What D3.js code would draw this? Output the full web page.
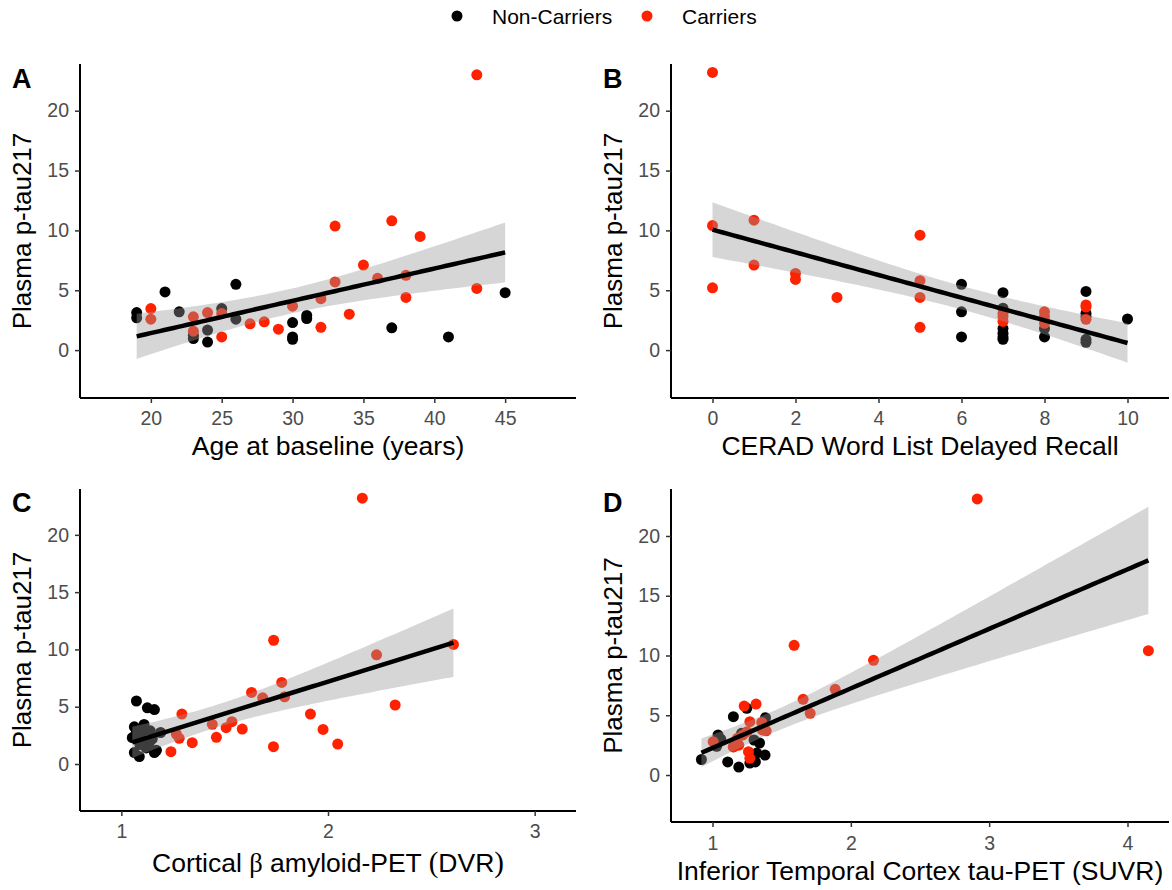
<!DOCTYPE html>
<html>
<head>
<meta charset="utf-8">
<script src="https://cdn.jsdelivr.net/npm/d3@7"></script>
<style>
  body { margin: 0; background: #fff; }
  text { font-family: "Liberation Sans", Arial, sans-serif; }
</style>
</head>
<body>
<svg id="chart" width="1172" height="890"></svg>
<script>
"use strict";

// ---- data ----
// A: age at baseline
const ageNC  = [19, 19, 21, 22, 23, 23, 24, 24, 25, 26, 26, 30, 30, 30, 31, 31, 37, 41, 45];
const ptauNC_A = [3.14, 2.7, 4.86, 3.2, 1.25, 0.97, 1.67, 0.67, 3.47, 5.5, 2.58, 2.3, 1.1, 0.9, 2.9, 2.64, 1.86, 1.1, 4.8];
const ageC   = [20, 20, 23, 23, 24, 25, 25, 27, 28, 29, 30, 32, 32, 33, 33, 34, 35, 36, 37, 38, 38, 39, 43, 43];
const ptauC_A = [3.47, 2.58, 2.78, 1.58, 3.14, 3.05, 1.1, 2.2, 2.36, 1.75, 3.67, 4.3, 1.9, 10.36, 5.7, 3.0, 7.1, 6.0, 10.8, 6.25, 4.4, 9.5, 23.0, 5.15];

// B: CERAD delayed recall
const recallNC = [6, 6, 6, 7, 7, 7, 7, 7, 7, 8, 8, 9, 9, 9, 9, 9, 10];
const ptauNC_B = [5.5, 3.2, 1.1, 4.8, 3.5, 1.8, 1.4, 1.1, 0.9, 1.8, 1.1, 4.9, 3.07, 2.8, 0.9, 0.65, 2.6];
const recallC  = [0, 0, 0, 1, 1, 2, 2, 3, 5, 5, 5, 5, 7, 7, 7, 8, 8, 8, 9, 9, 9];
const ptauC_B  = [23.2, 10.4, 5.2, 10.85, 7.1, 6.4, 5.9, 4.4, 9.6, 5.8, 4.4, 1.9, 3.07, 2.8, 2.4, 3.2, 2.8, 2.24, 3.77, 3.6, 2.57];

// C: cortical amyloid PET (DVR)
const dvrNC = [1.073, 1.126, 1.16, 1.063, 1.11, 1.053, 1.063, 1.087, 1.16, 1.10, 1.135, 1.12, 1.19, 1.14, 1.08, 1.15, 1.07, 1.17, 1.09];
const ptauNC_C = [5.5, 4.9, 4.75, 3.25, 3.45, 2.3, 1.0, 0.65, 1.0, 2.7, 1.85, 1.4, 2.75, 2.9, 3.0, 2.2, 2.6, 1.2, 1.7];
const dvrC  = [2.166, 1.737, 2.607, 2.235, 1.776, 1.63, 1.684, 1.79, 2.325, 1.293, 1.915, 1.44, 1.535, 1.507, 1.585, 1.976, 1.266, 1.28, 1.343, 1.46, 1.736, 2.047, 1.24];
const ptauC_C = [23.2, 10.8, 10.44, 9.53, 7.12, 6.25, 5.78, 5.87, 5.15, 4.36, 4.36, 3.46, 3.69, 3.17, 3.05, 3.02, 2.62, 2.24, 1.86, 2.33, 1.51, 1.74, 1.08];

// D: inferior temporal tau PET (SUVR)
const suvrNC = [0.92, 1.04, 1.06, 1.03, 1.11, 1.19, 1.27, 1.32, 1.38, 1.34, 1.31, 1.248, 1.151, 1.383, 1.21, 1.30, 1.16];
const ptauNC_D = [1.3, 3.35, 3.0, 2.4, 1.1, 0.67, 1.0, 1.84, 1.67, 2.68, 1.1, 5.58, 4.88, 4.8, 3.49, 2.93, 2.6];
const suvrC  = [2.914, 4.151, 1.59, 2.164, 1.887, 1.655, 1.706, 1.315, 1.229, 1.27, 1.356, 1.388, 1.005, 1.18, 1.22, 1.25, 1.154, 1.19, 1.26, 1.27, 1.36, 1.15];
const ptauC_D = [23.1, 10.4, 10.85, 9.6, 7.17, 6.33, 5.16, 5.94, 5.77, 4.46, 4.4, 3.7, 2.79, 3.07, 3.35, 3.63, 2.37, 2.5, 1.95, 1.4, 3.77, 2.35];

const yTicks = [0, 5, 10, 15, 20];
const legendLabels = ["Non-Carriers", "Carriers"];
const colNC = "#000000";
const colC = "#ff2200";

const panels = [
    { tag: "A", xNC: ageNC, yNC: ptauNC_A, xC: ageC, yC: ptauC_A,
      xDom: [15, 50], yDom: [-4, 23.9], left: 80, right: 576, top: 64, bottom: 398,
      xTicks: [20, 25, 30, 35, 40, 45], xTitle: "Age at baseline (years)",
      tickBase: 425, titleBase: 455, tagBase: 88, tagX: 12 },
    { tag: "B", xNC: recallNC, yNC: ptauNC_B, xC: recallC, yC: ptauC_B,
      xDom: [-1, 11], yDom: [-4, 23.9], left: 671, right: 1169, top: 64, bottom: 398,
      xTicks: [0, 2, 4, 6, 8, 10], xTitle: "CERAD Word List Delayed Recall",
      tickBase: 425, titleBase: 455, tagBase: 88, tagX: 603 },
    { tag: "C", xNC: dvrNC, yNC: ptauNC_C, xC: dvrC, yC: ptauC_C,
      xDom: [0.8, 3.2], yDom: [-4.1, 24.0], left: 80, right: 576, top: 489, bottom: 811,
      xTicks: [1, 2, 3], xTitle: null,
      tickBase: 838, titleBase: 872, tagBase: 512, tagX: 12 },
    { tag: "D", xNC: suvrNC, yNC: ptauNC_D, xC: suvrC, yC: ptauC_D,
      xDom: [0.70, 4.30], yDom: [-3.93, 23.93], left: 671, right: 1169, top: 489, bottom: 822,
      xTicks: [1, 2, 3, 4], xTitle: "Inferior Temporal Cortex tau-PET (SUVR)",
      tickBase: 850, titleBase: 880, tagBase: 512, tagX: 603 }
];

const svg = d3.select("#chart");

// t quantile (0.975) approximation
function tq975(df) {
    const z = 1.959964;
    return z + (z * z * z + z) / (4 * df) + (5 * Math.pow(z, 5) + 16 * z * z * z + 3 * z) / (96 * df * df);
}

// ordinary least squares + 95% CI of the mean, like geom_smooth(method = "lm")
function lmFit(xs, ys) {
    const n = xs.length;
    const xbar = d3.mean(xs), ybar = d3.mean(ys);
    let sxx = 0, sxy = 0;
    xs.forEach((x, i) => { sxx += (x - xbar) * (x - xbar); sxy += (x - xbar) * (ys[i] - ybar); });
    const b = sxy / sxx, a = ybar - b * xbar;
    let sse = 0;
    xs.forEach((x, i) => { const r = ys[i] - (a + b * x); sse += r * r; });
    const s = Math.sqrt(sse / (n - 2));
    const t = tq975(n - 2);
    const [lo, hi] = d3.extent(xs);
    const grid = d3.range(81).map(i => lo + (hi - lo) * i / 80);
    return grid.map(x => {
        const yh = a + b * x;
        const se = s * Math.sqrt(1 / n + (x - xbar) * (x - xbar) / sxx);
        return { x: x, y: yh, lo: yh - t * se, hi: yh + t * se };
    });
}

function drawPanel(p) {
    const x = d3.scaleLinear().domain(p.xDom).range([p.left, p.right]);
    const y = d3.scaleLinear().domain(p.yDom).range([p.bottom, p.top]);
    const g = svg.append("g");

    // points
    const pts = p.xNC.map((v, i) => ({ x: v, y: p.yNC[i], c: colNC }))
        .concat(p.xC.map((v, i) => ({ x: v, y: p.yC[i], c: colC })));
    g.selectAll("circle.pt").data(pts).enter().append("circle")
        .attr("class", "pt")
        .attr("cx", d => x(d.x)).attr("cy", d => y(d.y))
        .attr("r", 5.5).attr("fill", d => d.c);

    // smooth (drawn over the points, as in the figure)
    const fit = lmFit(pts.map(d => d.x), pts.map(d => d.y));
    g.append("path").datum(fit)
        .attr("d", d3.area().x(d => x(d.x)).y0(d => y(d.lo)).y1(d => y(d.hi)))
        .attr("fill", "#999999").attr("fill-opacity", 0.4);
    g.append("path").datum(fit)
        .attr("d", d3.line().x(d => x(d.x)).y(d => y(d.y)))
        .attr("fill", "none").attr("stroke", "#000").attr("stroke-width", 4.5);

    // axes
    const xAxis = g.append("g").attr("transform", "translate(0," + p.bottom + ")")
        .call(d3.axisBottom(x).tickValues(p.xTicks).tickSize(5).tickPadding(4).tickFormat(d3.format("d")));
    const yAxis = g.append("g").attr("transform", "translate(" + p.left + ",0)")
        .call(d3.axisLeft(y).tickValues(yTicks).tickSize(5).tickPadding(4).tickFormat(d3.format("d")));
    [xAxis, yAxis].forEach(ax => {
        ax.select(".domain").attr("stroke", "#000").attr("stroke-width", 2)
            .attr("d", ax === xAxis ? "M" + p.left + ",0H" + p.right : "M0," + p.top + "V" + p.bottom);
        ax.selectAll(".tick line").attr("stroke", "#333").attr("stroke-width", 1.5);
        ax.selectAll(".tick text").attr("fill", "#4d4d4d").style("font-size", "19.5px")
            .style("font-family", "'Liberation Sans', Arial, sans-serif");
    });
    xAxis.selectAll(".tick text").attr("dy", null).attr("y", p.tickBase - p.bottom);
    yAxis.selectAll(".tick text").attr("x", -11);

    // titles
    const cx = (p.left + p.right) / 2;
    if (p.xTitle) {
        g.append("text").attr("x", cx).attr("y", p.titleBase).attr("text-anchor", "middle")
            .style("font-size", "26.5px").attr("fill", "#000").text(p.xTitle);
    } else {
        const t = g.append("text").attr("x", cx).attr("y", p.titleBase).attr("text-anchor", "middle")
            .style("font-size", "26.5px").attr("fill", "#000");
        t.append("tspan").text("Cortical ");
        t.append("tspan").style("font-family", "'Liberation Serif', serif").text("β");
        t.append("tspan").text(" amyloid-PET  ");
        t.append("tspan").style("font-family", "'Liberation Serif', serif").style("font-size", "29px").text("(");
        t.append("tspan").text("DVR");
        t.append("tspan").style("font-family", "'Liberation Serif', serif").style("font-size", "29px").text(")");
    }
    g.append("text")
        .attr("transform", "translate(" + (p.left - 49) + "," + ((p.top + p.bottom) / 2) + ") rotate(-90)")
        .attr("text-anchor", "middle").style("font-size", "26px").attr("fill", "#000")
        .text("Plasma p-tau217");

    g.append("text").attr("x", p.tagX).attr("y", p.tagBase)
        .style("font-size", "27px").style("font-weight", "bold").attr("fill", "#000").text(p.tag);
}

panels.forEach(drawPanel);

// legend
const leg = svg.append("g");
const legX = [457, 647];
const legCols = [colNC, colC];
legendLabels.forEach((lab, i) => {
    leg.append("circle").attr("cx", legX[i]).attr("cy", 16).attr("r", 5.5).attr("fill", legCols[i]);
    leg.append("text").attr("x", legX[i] + 35).attr("y", 24)
        .style("font-size", "21px").attr("fill", "#000").text(lab);
});
</script>
</body>
</html>
